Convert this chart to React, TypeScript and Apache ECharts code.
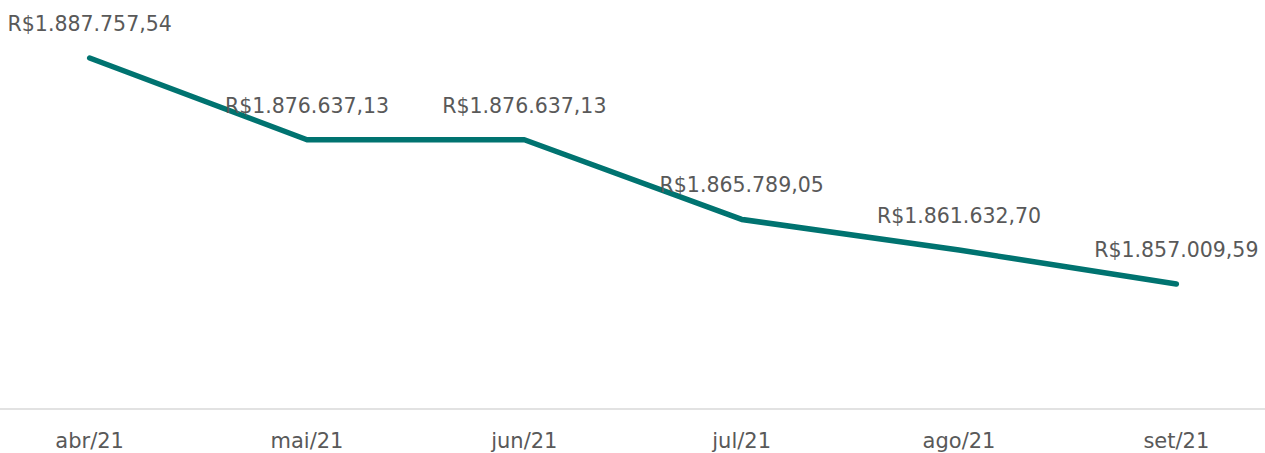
import React, { useEffect, useRef } from "react";
import * as echarts from "echarts";

const categories = ["abr/21", "mai/21", "jun/21", "jul/21", "ago/21", "set/21"];
const values = [1887757.54, 1876637.13, 1876637.13, 1865789.05, 1861632.7, 1857009.59];

const fmt = (v: number) => {
  const [i, d] = Number(v).toFixed(2).split(".");
  return "R$" + i.replace(/\B(?=(\d{3})+(?!\d))/g, ".") + "," + d;
};

export default function App() {
  const ref = useRef<HTMLDivElement>(null);
  useEffect(() => {
    if (!ref.current) return;
    const chart = echarts.init(ref.current, null, { renderer: "svg" });
    chart.setOption({
      animation: false,
      backgroundColor: "#ffffff",
      grid: { left: 0, right: 0, top: 41.5, bottom: 44, containLabel: false },
      xAxis: {
        type: "category",
        data: categories,
        boundaryGap: true,
        axisLine: { show: true, lineStyle: { color: "#d9d9d9", width: 1.5 } },
        axisTick: { show: false },
        axisLabel: {
          color: "#595959",
          fontSize: 21,
          fontFamily: "DejaVu Sans",
          margin: 21,
          interval: 0,
        },
      },
      yAxis: {
        type: "value",
        min: 1840000,
        max: 1890000,
        show: false,
        splitLine: { show: false },
      },
      series: [
        {
          type: "line",
          data: values,
          symbol: "none",
          lineStyle: { color: "#007370", width: 5.5, cap: "round", join: "round" },
          itemStyle: { color: "#007370" },
          z: 2,
        },
        {
          type: "scatter",
          data: values,
          symbolSize: 1,
          itemStyle: { color: "rgba(0,0,0,0)", opacity: 1 },
          z: 3,
          label: {
            show: true,
            position: "top",
            distance: 23,
            color: "#595959",
            opacity: 1,
            fontSize: 20.5,
            fontFamily: "DejaVu Sans",
            formatter: (p: any) => fmt(p.value),
          },
        },
      ],
    });
    return () => chart.dispose();
  }, []);
  return (
    <div
      ref={ref}
      style={{ position: "fixed", left: -19, top: 0, width: 1304, height: 453 }}
    />
  );
}
